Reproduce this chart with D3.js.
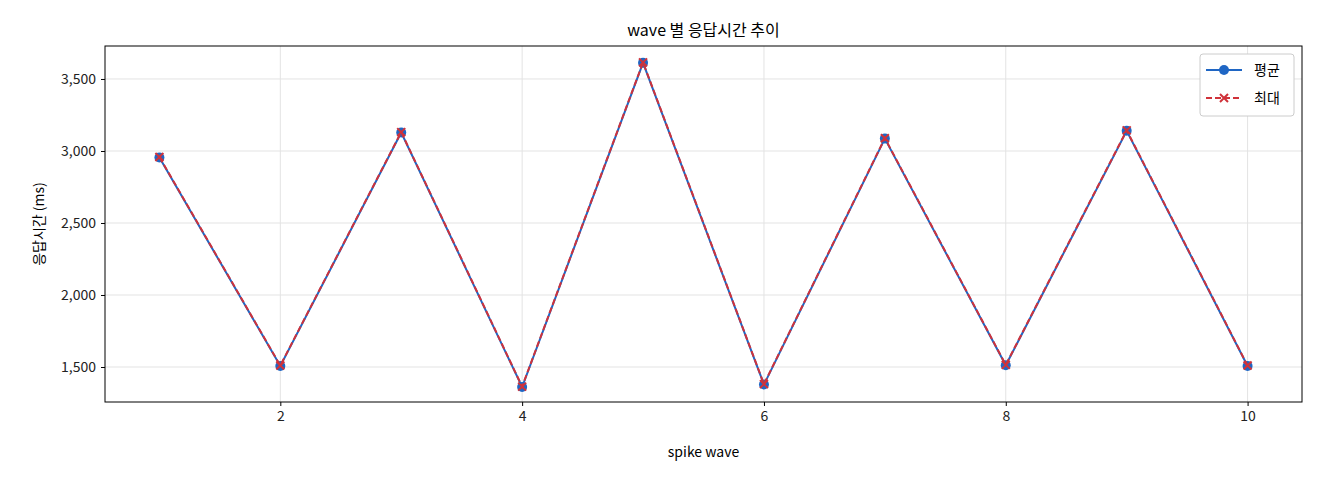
<!DOCTYPE html><html><head><meta charset="utf-8">
<script src="https://cdn.jsdelivr.net/npm/d3@7"></script>
<style>body{margin:0;background:#fff}text{font-family:"Noto Sans CJK KR","DejaVu Sans",sans-serif}</style></head><body>
<svg id="c" width="1320" height="480"></svg>
<script>
const waves=[1,2,3,4,5,6,7,8,9,10];
const avgMs=[2955,1507,3128,1361,3612,1378,3086,1512,3140,1507];
const maxMs=[2958,1510,3131,1364,3615,1381,3089,1515,3143,1510];
const yTicks=[1500,2000,2500,3000,3500];
const xTicks=[2,4,6,8,10];
const L=105,R=1302,T=46,B=402;
const svg=d3.select("#c");
const x=d3.scaleLinear().domain([0.55,10.45]).range([L,R]);
const y=d3.scaleLinear().domain([1257,3729]).range([B,T]);
const g=svg.append("g");
g.selectAll(".gx").data(xTicks).enter().append("line").attr("x1",d=>x(d)).attr("x2",d=>x(d)).attr("y1",T).attr("y2",B).attr("stroke","#e3e3e3");
g.selectAll(".gy").data(yTicks).enter().append("line").attr("y1",d=>y(d)).attr("y2",d=>y(d)).attr("x1",L).attr("x2",R).attr("stroke","#e3e3e3");
const ax=svg.append("g").attr("transform",`translate(0,${B})`).call(d3.axisBottom(x).tickValues(xTicks).tickSize(4).tickPadding(5));
const ay=svg.append("g").attr("transform",`translate(${L},0)`).call(d3.axisLeft(y).tickValues(yTicks).tickSize(4).tickPadding(5));
[ax,ay].forEach(a=>{a.select(".domain").remove();a.selectAll("text").attr("font-size",14).attr("fill","#222");});
svg.append("rect").attr("x",L).attr("y",T).attr("width",R-L).attr("height",B-T).attr("fill","none").attr("stroke","#000");
const ln=d3.line().x((d,i)=>x(waves[i])).y(d=>y(d));
svg.append("path").datum(avgMs).attr("d",ln).attr("fill","none").attr("stroke","#1f66c4").attr("stroke-width",2);
svg.selectAll(".dot").data(avgMs).enter().append("circle").attr("cx",(d,i)=>x(waves[i])).attr("cy",d=>y(d)).attr("r",5).attr("fill","#1f66c4");
svg.append("path").datum(maxMs).attr("d",ln).attr("fill","none").attr("stroke","#d0323a").attr("stroke-width",2).attr("stroke-dasharray","6,3");
const cross=(sel,cx,cy)=>sel.append("path").attr("d",`M${cx-4},${cy-4}L${cx+4},${cy+4}M${cx-4},${cy+4}L${cx+4},${cy-4}`).attr("stroke","#d0323a").attr("stroke-width",2);
maxMs.forEach((d,i)=>cross(svg,x(waves[i]),y(d)));
svg.append("text").attr("x",(L+R)/2).attr("y",36).attr("text-anchor","middle").attr("font-size",16).text("wave 별 응답시간 추이");
svg.append("text").attr("x",(L+R)/2).attr("y",457).attr("text-anchor","middle").attr("font-size",14).text("spike wave");
svg.append("text").attr("transform",`translate(44,${(T+B)/2}) rotate(-90)`).attr("text-anchor","middle").attr("font-size",14).text("응답시간 (ms)");
const lg=svg.append("g");
lg.append("rect").attr("x",1200).attr("y",54).attr("width",94).attr("height",62).attr("rx",3).attr("fill","#fff").attr("stroke","#ccc");
lg.append("line").attr("x1",1206).attr("x2",1242).attr("y1",70).attr("y2",70).attr("stroke","#1f66c4").attr("stroke-width",2);
lg.append("circle").attr("cx",1224).attr("cy",70).attr("r",5).attr("fill","#1f66c4");
lg.append("line").attr("x1",1206).attr("x2",1242).attr("y1",98).attr("y2",98).attr("stroke","#d0323a").attr("stroke-width",2).attr("stroke-dasharray","6,3");
cross(lg,1224,98);
lg.append("text").attr("x",1254).attr("y",75).attr("font-size",14).text("평균");
lg.append("text").attr("x",1254).attr("y",103).attr("font-size",14).text("최대");
</script></body></html>
